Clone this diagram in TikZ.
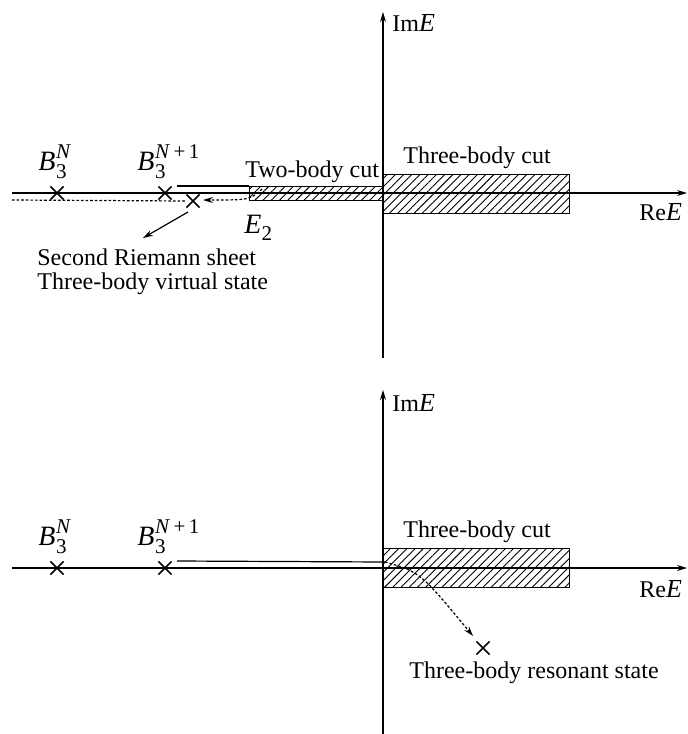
\documentclass[tikz,border=0pt]{standalone}
\usepackage{fontspec}
\setmainfont{Liberation Serif}
\usetikzlibrary{arrows.meta,patterns.meta,shapes.misc}
\newcommand\scr[1]{{\fontsize{10.5pt}{12pt}\selectfont #1}}
\newcommand\Bsym[1]{{\fontsize{14pt}{16pt}\selectfont\textit{B}}\kern0.3pt\rlap{\raisebox{-4pt}{\scr{3}}}\raisebox{6pt}{\scr{#1}}}
\tikzset{
  ax/.style={line width=0.6pt,-{Stealth[length=5pt,width=3pt]}},
  xmark/.style={cross out,draw,line width=0.8pt,minimum size=5.8pt,inner sep=0pt},
  cutbox/.style={draw,line width=0.6pt,inner sep=0pt,anchor=north west,
    pattern={Lines[angle=45,distance=2.9pt,line width=0.45pt]}},
  lbl/.style={font=\fontsize{12pt}{14pt}\selectfont,inner sep=0pt,anchor=base west},
  dotl/.style={dash pattern=on 1.3pt off 1pt,line width=0.6pt},
  conn/.style={line width=0.6pt},
  tipd/.style={-{Stealth[length=5pt,width=3pt]}},
}
\begin{document}
\begin{tikzpicture}[x=0.5pt,y=-0.5pt]
\useasboundingbox (0,0) rectangle (688,734);
% ---------- top panel ----------
\coordinate (t-vb) at (383,358);
\coordinate (t-vt) at (383,12);
\coordinate (t-hl) at (12,193);
\coordinate (t-hr) at (687,193);
\node[cutbox,minimum width=93pt,minimum height=19.5pt] (t3cut) at (383,174) {};
\node[cutbox,minimum width=67pt,minimum height=7pt] (t2cut) at (249,186) {};
\draw[ax] (t-vb) -- (t-vt);
\draw[ax] (t-hl) -- (t-hr);
\node[xmark] (tb1) at (57,193) {};
\node[xmark] (tb2) at (165,193) {};
\node[xmark] (tv) at (193,201) {};
\coordinate (t-dl) at (12,200);
\draw[dotl] (t-dl) -- (tv.west);
\coordinate (t-ul) at (177,186);
\draw[conn] (t-ul) -- (t2cut.north west);
\coordinate (t-ds) at (262,189);
\coordinate (t-de) at (203,200);
\draw[dotl,tipd] (t-ds) .. controls (250,200) .. (t-de);
\coordinate (t-arrs) at (188,212);
\coordinate (t-arre) at (143,238);
\draw[conn,tipd] (t-arrs) -- (t-arre);
\node[lbl] (tlb1) at (38,170) {\Bsym{\textit{N}}};
\node[lbl] (tlb2) at (137,170) {\Bsym{\textit{N}\,+\,1}};
\node[lbl] (t2txt) at (245,177) {Two-body cut};
\node[lbl] (t3txt) at (403,163) {Three-body cut};
\node[lbl] (te2) at (244,233) {{\fontsize{14pt}{16pt}\selectfont\textit{E}}\raisebox{-3.5pt}{\scr{2}}};
\node[lbl] (tre) at (639,220) {Re{\fontsize{13pt}{15pt}\selectfont\textit{E}}};
\node[lbl] (tim) at (392,31) {Im{\fontsize{13pt}{15pt}\selectfont\textit{E}}};
\node[lbl] (tsec) at (37,265) {Second Riemann sheet};
\node[lbl] (tvir) at (37,289) {Three-body virtual state};
% ---------- bottom panel ----------
\coordinate (b-vb) at (383,734);
\coordinate (b-vt) at (383,390);
\coordinate (b-hl) at (12,568);
\coordinate (b-hr) at (687,568);
\node[cutbox,minimum width=93pt,minimum height=19.5pt] (b3cut) at (383,548) {};
\draw[ax] (b-vb) -- (b-vt);
\draw[ax] (b-hl) -- (b-hr);
\coordinate (b-ul) at (177,561);
\coordinate (b-ur) at (385,562);
\draw[conn] (b-ul) -- (b-ur);
\node[xmark] (bb1) at (57,568) {};
\node[xmark] (bb2) at (165,568) {};
\node[xmark] (br) at (483,648) {};
\coordinate (b-de) at (473,636);
\draw[dotl,tipd] (b-ur) .. controls (420,572) .. (b-de);
\node[lbl] (blb1) at (38,545) {\Bsym{\textit{N}}};
\node[lbl] (blb2) at (137,545) {\Bsym{\textit{N}\,+\,1}};
\node[lbl] (b3txt) at (403,537) {Three-body cut};
\node[lbl] (bre) at (639,597) {Re{\fontsize{13pt}{15pt}\selectfont\textit{E}}};
\node[lbl] (bim) at (392,411) {Im{\fontsize{13pt}{15pt}\selectfont\textit{E}}};
\node[lbl] (bres) at (409,678) {Three-body resonant state};
\end{tikzpicture}
\end{document}
